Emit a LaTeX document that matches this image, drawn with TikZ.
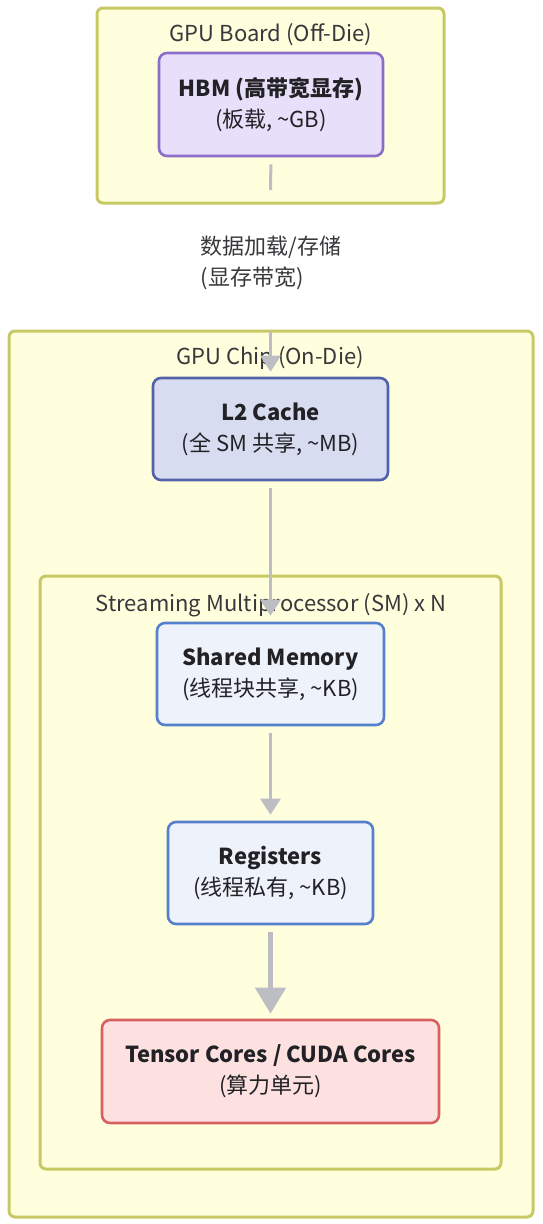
\documentclass[tikz,border=0pt]{standalone}
\usepackage{fontspec}
\setmainfont{Noto Sans CJK SC}
\usepackage{xcolor}
\usepackage{tikz}
\usetikzlibrary{arrows.meta,positioning}
\definecolor{grpfill}{RGB}{255,255,222}
\definecolor{grpline}{RGB}{200,200,100}
\definecolor{hbmfill}{RGB}{232,224,250}
\definecolor{hbmline}{RGB}{140,110,200}
\definecolor{ltwofill}{RGB}{216,220,240}
\definecolor{ltwoline}{RGB}{82,98,168}
\definecolor{smfill}{RGB}{238,242,251}
\definecolor{smline}{RGB}{85,128,204}
\definecolor{tcfill}{RGB}{253,225,225}
\definecolor{tcline}{RGB}{216,96,96}
\definecolor{edge}{RGB}{188,190,196}
\definecolor{ink}{RGB}{34,34,38}
\tikzset{grp/.style={draw=grpline,fill=grpfill,line width=3pt,rounded corners=6pt},
  ttl/.style={text=ink!90,font=\fontsize{22}{31}\selectfont},
  blk/.style={rectangle,rounded corners=8pt,line width=2.6pt,align=center,text=ink,font=\fontsize{22}{31}\selectfont},
  lnk/.style={draw=edge,line width=3pt}}

\begin{document}
\begin{tikzpicture}[x=1pt,y=-1pt,>={Triangle[width=20pt,length=16pt]}]
    \useasboundingbox (0,0) rectangle (542,1224);
    % groups
    \draw[grp] (97,8) rectangle (444,203);
    \draw[grp] (9,331) rectangle (533,1217);
    \draw[grp] (40,576) rectangle (501,1169);
    \node[ttl] (tboard) at (271,35) {GPU Board (Off-Die)};
    \node[ttl] (tchip) at (270,358) {GPU Chip (On-Die)};
    \node[ttl] (tsm) at (271,605) {Streaming Multiprocessor (SM) x N};

    \node[blk,draw=hbmline,fill=hbmfill,minimum width=224pt,minimum height=103pt] (hbm) at (271,104.5) {\textbf{HBM (高带宽显存)}\\(板载, \textasciitilde GB)};
    \node[blk,draw=ltwoline,fill=ltwofill,minimum width=235pt,minimum height=102pt] (ltwo) at (270.5,429) {\textbf{L2 Cache}\\(全 SM 共享, \textasciitilde MB)};
    \node[blk,draw=smline,fill=smfill,minimum width=227pt,minimum height=102pt] (shm) at (270.5,674) {\textbf{Shared Memory}\\(线程块共享, \textasciitilde KB)};
    \node[blk,draw=smline,fill=smfill,minimum width=205pt,minimum height=102pt] (reg) at (270.5,873) {\textbf{Registers}\\(线程私有, \textasciitilde KB)};
    \node[blk,draw=tcline,fill=tcfill,minimum width=337pt,minimum height=103pt] (tc) at (270.5,1071.5) {\textbf{Tensor Cores / CUDA Cores}\\(算力单元)};

    \coordinate (hcut) at (270.5,190);
    \coordinate (hin) at (270.5,331);
    \node[ttl,align=left] (lbl) at (271,263) {数据加载/存储\\(显存带宽)};

    \draw[lnk,shorten <=7pt] (hbm.south) -- (hcut);
    \draw[lnk,->,shorten >=5pt] (hin) -- (ltwo.north);
    \draw[lnk,->,shorten <=7pt,shorten >=6pt] (ltwo) -- (shm);
    \draw[lnk,->,shorten <=7pt,shorten >=6pt] (shm) -- (reg);
    \draw[lnk,line width=5pt,-{Triangle[width=30pt,length=26pt]},shorten <=7pt,shorten >=5pt] (reg) -- (tc);
\end{tikzpicture}
\end{document}
